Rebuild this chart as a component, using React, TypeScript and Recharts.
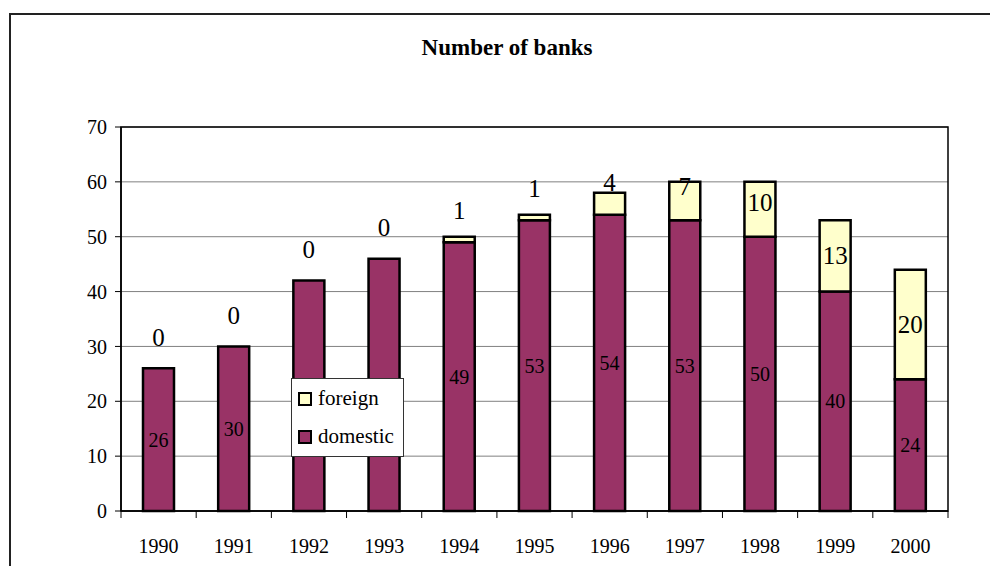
import React from 'react';
import {
  BarChart,
  Bar,
  XAxis,
  YAxis,
  CartesianGrid,
  LabelList,
  ReferenceArea,
} from 'recharts';

const years = ['1990', '1991', '1992', '1993', '1994', '1995', '1996', '1997', '1998', '1999', '2000'];
const domestic = [26, 30, 42, 46, 49, 53, 54, 53, 50, 40, 24];
const foreign = [0, 0, 0, 0, 1, 1, 4, 7, 10, 13, 20];
const yTicks = [0, 10, 20, 30, 40, 50, 60, 70];
const boundaryTicks = [0, 1, 2, 3, 4, 5, 6, 7, 8, 9, 10, 11];

const seriesNames = { foreign: 'foreign', domestic: 'domestic' };
const colors = { foreign: '#FFFFCC', domestic: '#993366' };

const data = years.map((year, i) => ({ year, domestic: domestic[i], foreign: foreign[i], slot: i }));

const FONT = '"Liberation Serif", "Times New Roman", Times, serif';

const Y_DOMAIN: [number, number] = [0, 70];
const GRID_DOMAIN: [number, number] = [0, boundaryTicks.length - 1];
const emptyFormatter = () => '';
const blackTickLine = { stroke: '#000', strokeWidth: 1 };
const blackAxisLine = { stroke: '#000', strokeWidth: 1.5 };
const tickStyle = { fill: '#000', fontSize: 20, fontFamily: FONT };
const chartMargin = { top: 127, right: 42, bottom: 14, left: 0 };

const renderDomestic = (props: any) => {
  const { x, y, width, height, value } = props;
  const h = Math.abs(Number(height));
  const top = Math.min(Number(y), Number(y) + Number(height));
  return (
    <text
      x={Number(x) + Number(width) / 2}
      y={top + h / 2}
      textAnchor="middle"
      dominantBaseline="central"
      fontSize={20}
      fontFamily={FONT}
      fill="#000"
    >
      {value}
    </text>
  );
};

// foreign label placed relative to the foreign segment (Excel-like: pushed up when small)
const foreignText = (cx: number, top: number, h: number, value: any) => {
  const cy = top + h / 2 - Math.max(0, 31 - 0.44 * h);
  return (
    <text
      x={cx}
      y={cy}
      textAnchor="middle"
      dominantBaseline="central"
      fontSize={25}
      fontFamily={FONT}
      fill="#000"
    >
      {value}
    </text>
  );
};

const renderForeign = (props: any) => {
  const { x, y, width, height, value } = props;
  if (Number(value) === 0) return null;
  const h = Math.abs(Number(height));
  const top = Math.min(Number(y), Number(y) + Number(height));
  return foreignText(Number(x) + Number(width) / 2, top, h, value);
};

// zero-valued foreign segments have no rectangle: label them from the top of the domestic bar
const renderForeignZero = (props: any) => {
  const { x, y, width, height, value } = props;
  if (Number(value) !== 0) return null;
  const top = Math.min(Number(y), Number(y) + Number(height));
  return foreignText(Number(x) + Number(width) / 2, top, 0, value);
};

const LegendItem = ({ color, label }: { color: string; label: string }) => (
  <div style={{ display: 'flex', alignItems: 'center', height: 38 }}>
    <div
      style={{
        width: 10,
        height: 10,
        background: color,
        border: '2px solid #000',
        marginRight: 6,
      }}
    />
    <span style={{ fontSize: 21, fontFamily: FONT, color: '#000', lineHeight: '21px' }}>{label}</span>
  </div>
);

export default function App() {
  return (
    <div
      style={{
        position: 'absolute',
        left: 0,
        top: 0,
        width: 990,
        height: 566,
        overflow: 'hidden',
        background: '#fff',
      }}
    >
      <div
        style={{
          position: 'absolute',
          left: 9,
          top: 13,
          width: 1100,
          height: 700,
          borderLeft: '2px solid #222',
          borderTop: '2px solid #222',
        }}
      />
      <div
        style={{
          position: 'absolute',
          left: 0,
          top: 35,
          width: 1014,
          textAlign: 'center',
          fontFamily: FONT,
          fontWeight: 'bold',
          fontSize: 23,
          lineHeight: '26px',
          color: '#000',
        }}
      >
        Number of banks
      </div>
      <div style={{ position: 'absolute', left: 0, top: 0 }}>
        <BarChart width={990} height={566} data={data} margin={chartMargin}>
          <CartesianGrid xAxisId="b_cat" vertical={false} horizontal stroke="#808080" strokeWidth={1} />
          <XAxis
            xAxisId="a_grid"
            dataKey="slot"
            type="number"
            domain={GRID_DOMAIN}
            allowDataOverflow
            ticks={boundaryTicks}
            interval={0}
            height={1}
            tickSize={7}
            tickLine={blackTickLine}
            axisLine={blackAxisLine}
            tickFormatter={emptyFormatter}
          />
          <XAxis
            xAxisId="b_cat"
            dataKey="year"
            type="category"
            interval={0}
            height={40}
            tickSize={0}
            tickMargin={27}
            tickLine={false}
            axisLine={false}
            tick={tickStyle}
          />
          <YAxis
            domain={Y_DOMAIN}
            ticks={yTicks}
            interval={0}
            width={121}
            tickSize={6}
            tickMargin={8}
            axisLine={blackAxisLine}
            tickLine={blackTickLine}
            tick={tickStyle}
          />
          <ReferenceArea
            xAxisId="a_grid"
            x1={GRID_DOMAIN[0]}
            x2={GRID_DOMAIN[1]}
            y1={Y_DOMAIN[0]}
            y2={Y_DOMAIN[1]}
            fill="none"
            fillOpacity={0}
            stroke="#000"
            strokeWidth={1.5}
            ifOverflow="visible"
          />
          <Bar
            xAxisId="b_cat"
            dataKey="domestic"
            name={seriesNames.domestic}
            stackId="s"
            fill={colors.domestic}
            stroke="#000"
            strokeWidth={2.5}
            barSize={31}
            isAnimationActive={false}
          >
            <LabelList dataKey="domestic" content={renderDomestic} />
            <LabelList dataKey="foreign" content={renderForeignZero} />
          </Bar>
          <Bar
            xAxisId="b_cat"
            dataKey="foreign"
            name={seriesNames.foreign}
            stackId="s"
            fill={colors.foreign}
            stroke="#000"
            strokeWidth={2.5}
            barSize={31}
            isAnimationActive={false}
          >
            <LabelList dataKey="foreign" content={renderForeign} />
          </Bar>
        </BarChart>
      </div>
      <div
        style={{
          position: 'absolute',
          left: 291,
          top: 378,
          width: 113,
          height: 79,
          border: '1px solid #333',
          background: '#fff',
          paddingLeft: 6,
          boxSizing: 'border-box',
          display: 'flex',
          flexDirection: 'column',
          justifyContent: 'center',
        }}
      >
        <LegendItem color={colors.foreign} label={seriesNames.foreign} />
        <LegendItem color={colors.domestic} label={seriesNames.domestic} />
      </div>
    </div>
  );
}
